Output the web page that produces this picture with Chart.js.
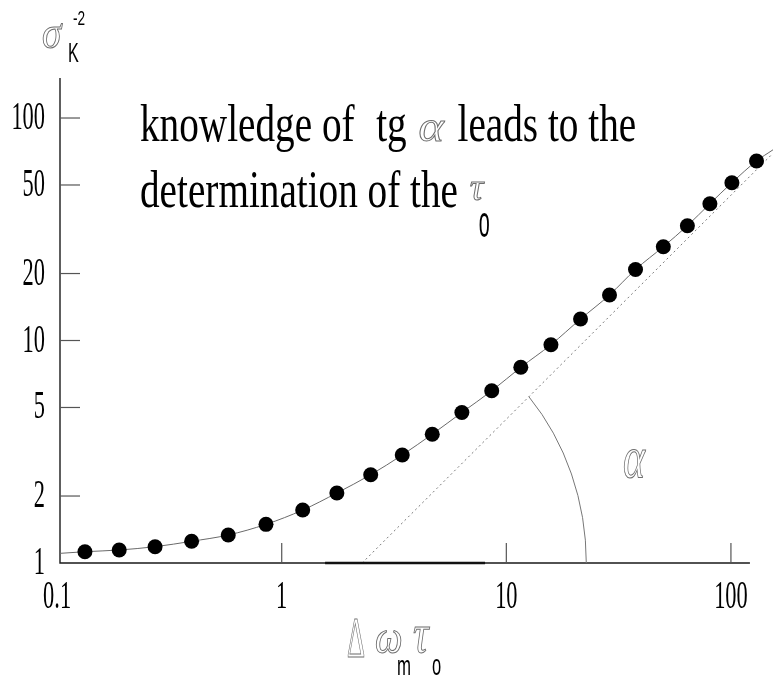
<!DOCTYPE html>
<html>
<head>
<meta charset="utf-8">
<script src="https://cdn.jsdelivr.net/npm/chart.js@4.4.1/dist/chart.umd.min.js"></script>
<style>
  html, body { margin: 0; padding: 0; background: #fff; }
  #wrap { width: 773px; height: 677px; position: relative; }
</style>
</head>
<body>
<div id="wrap"><canvas id="c" width="773" height="677"></canvas></div>
<script>
// Sampled points: Δω_m·τ_o versus σ_K^-2
const xValues = [0.133, 0.189, 0.273, 0.397, 0.578, 0.851, 1.24, 1.76, 2.49, 3.44, 4.68, 6.34,
                 8.61, 11.6, 15.8, 21.4, 28.8, 37.6, 50.0, 64.0, 80.6, 101, 130];
const yValues = [1.124, 1.144, 1.184, 1.252, 1.336, 1.492, 1.730, 2.064, 2.494, 3.058, 3.793, 4.748,
                 5.941, 7.578, 9.575, 12.49, 16.02, 20.85, 26.40, 32.81, 41.19, 51.2, 64.1];

// Continuation of the solid curve beyond the first and last sample
const curveStartX = 0.103, curveStartY = 1.105;
const curveEndX = 154, curveEndY = 72;

// Straight-line asymptote (slope 1 in log-log) and the angle arc
const asymptoteX = [2.28, 153];
const asymptoteY = [1, 69];
const arcRadiusX = 22.7;          // where the arc meets the x axis
const arcStretch = 1.11;          // vertical/horizontal radius ratio of the arc

// Heavier stretch of the x axis line
const axisSegmentX = [1.56, 8.04];

// Axis ranges
const xMin = 0.103, xMax = 141.8, xAxisEnd = 121.5;
const yMin = 1, yMax = 151.3;

// Tick labels
const xTickValues = [0.1, 1, 10, 100];
const xTickLabels = ['0.1', '1', '10', '100'];
const yTickValues = [1, 2, 5, 10, 20, 50, 100];
const yTickLabels = ['1', '2', '5', '10', '20', '50', '100'];

const curveData = [{ x: curveStartX, y: curveStartY }]
  .concat(xValues.map((x, i) => ({ x, y: yValues[i] })))
  .concat([{ x: curveEndX, y: curveEndY }]);
const pointData = xValues.map((x, i) => ({ x, y: yValues[i] }));
const asymptoteData = asymptoteX.map((x, i) => ({ x, y: asymptoteY[i] }));
const segmentData = axisSegmentX.map(x => ({ x, y: yMin }));

const SERIF = '"Liberation Serif", "Times New Roman", serif';
const SANS = '"Liberation Sans", Arial, sans-serif';
const GREEK = '#6e6e6e';

// Draw a text run squeezed horizontally by sx; returns the drawn width
function put(ctx, text, x, y, font, sx, opts) {
  opts = opts || {};
  ctx.save();
  ctx.font = font;
  ctx.textBaseline = 'alphabetic';
  const w = ctx.measureText(text).width * sx;
  let ox = x;
  if (opts.align === 'right') ox = x - w;
  else if (opts.align === 'center') ox = x - w / 2;
  ctx.translate(ox, y);
  ctx.scale(sx, 1);
  if (opts.stroke) {
    ctx.strokeStyle = opts.color || GREEK;
    ctx.lineWidth = opts.lw || 1;
    ctx.strokeText(text, 0, 0);
  } else {
    ctx.fillStyle = opts.color || '#000';
    ctx.fillText(text, 0, 0);
  }
  ctx.restore();
  return w;
}

const axesPlugin = {
  id: 'axesPlugin',
  beforeDatasetsDraw(chart) {
    const ctx = chart.ctx;
    const xs = chart.scales.x, ys = chart.scales.y;
    const a = chart.chartArea;
    const x0 = xs.getPixelForValue(xMin);
    const y0 = ys.getPixelForValue(yMin);
    ctx.save();
    // axis lines
    ctx.strokeStyle = '#1a1a1a';
    ctx.lineWidth = 1.4;
    ctx.beginPath();
    ctx.moveTo(x0, a.top);
    ctx.lineTo(x0, y0);
    ctx.lineTo(xs.getPixelForValue(xAxisEnd), y0);
    ctx.stroke();
    // inward tick marks
    ctx.strokeStyle = '#555';
    ctx.lineWidth = 1.2;
    xs.ticks.forEach(t => {
      const px = xs.getPixelForValue(t.value);
      if (px > x0 + 2) {
        ctx.beginPath(); ctx.moveTo(px, y0); ctx.lineTo(px, y0 - 20); ctx.stroke();
      }
    });
    ys.ticks.forEach(t => {
      const py = ys.getPixelForValue(t.value);
      if (py < y0 - 2) {
        ctx.beginPath(); ctx.moveTo(x0, py); ctx.lineTo(x0 + 20, py); ctx.stroke();
      }
    });
    // angle arc between the asymptote and the x axis
    const cx = xs.getPixelForValue(asymptoteX[0]);
    const cy = ys.getPixelForValue(asymptoteY[0]);
    const dx = xs.getPixelForValue(asymptoteX[1]) - cx;
    const dy = cy - ys.getPixelForValue(asymptoteY[1]);
    const rx = xs.getPixelForValue(arcRadiusX) - cx;
    const ry = rx * arcStretch;
    const t = Math.atan2(dy / ry, dx / rx);
    ctx.strokeStyle = '#777';
    ctx.lineWidth = 1;
    ctx.beginPath();
    ctx.ellipse(cx, cy, rx, ry, 0, -t, 0);
    ctx.stroke();
    ctx.restore();
  },
  afterDraw(chart) {
    const ctx = chart.ctx;
    const xs = chart.scales.x, ys = chart.scales.y;
    const tickFont = '40px ' + SERIF;
    xs.ticks.forEach(t => {
      put(ctx, t.label, xs.getPixelForValue(t.value), 608, tickFont, 0.56, { align: 'center' });
    });
    ys.ticks.forEach(t => {
      put(ctx, t.label, 45, ys.getPixelForValue(t.value) + 11, tickFont, 0.56, { align: 'right' });
    });

    // y axis title: σ_K^-2
    put(ctx, 'σ', 42, 48, 'italic 46px ' + SERIF, 0.85, { stroke: true });
    put(ctx, 'K', 68, 62, '27px ' + SANS, 0.6);
    put(ctx, '-2', 73, 25, '21px ' + SANS, 0.65);

    // x axis title: Δω_m τ_o
    put(ctx, 'Δ', 347, 657, '56px ' + SERIF, 0.5, { stroke: true });
    put(ctx, 'ω', 375, 653, 'italic 46px ' + SERIF, 0.85, { stroke: true });
    put(ctx, 'm', 397, 675, '28px ' + SANS, 0.6);
    put(ctx, 'τ', 413, 652, 'italic 54px ' + SERIF, 0.8, { stroke: true });
    put(ctx, 'o', 432, 675, '30px ' + SANS, 0.55);

    // annotation, two lines in a condensed serif
    const big = '53px ' + SERIF, sx = 0.74;
    ctx.font = big;
    const sp = ctx.measureText(' ').width * sx;
    let x = 140;
    x += put(ctx, 'knowledge of', x, 141, big, sx) + sp * 2.2;
    x += put(ctx, 'tg', x, 141, big, sx) + sp * 1.2;
    x += put(ctx, 'α', x, 141, 'italic 44px ' + SERIF, 1.1, { stroke: true }) + sp * 1.4;
    put(ctx, 'leads to the', x, 141, big, sx);

    x = 140;
    x += put(ctx, 'determination of the', x, 207, big, sx) + sp * 1.2;
    put(ctx, 'τ', x, 200, 'italic 38px ' + SERIF, 1.0, { stroke: true });
    put(ctx, 'o', x + 9, 237, '44px ' + SANS, 0.45);

    // angle label
    put(ctx, 'α', 623, 477, 'italic 60px ' + SERIF, 0.7, { stroke: true });
  }
};

new Chart(document.getElementById('c'), {
  type: 'scatter',
  data: {
    datasets: [
      {
        type: 'line', data: curveData, borderColor: '#6a6a6a', borderWidth: 1,
        pointRadius: 0, cubicInterpolationMode: 'monotone', fill: false, clip: false, order: 3
      },
      {
        type: 'line', data: asymptoteData, borderColor: '#7a7a7a', borderWidth: 1,
        borderDash: [2, 3], pointRadius: 0, fill: false, clip: false, order: 4
      },
      {
        type: 'line', data: segmentData, borderColor: '#111', borderWidth: 2.6,
        pointRadius: 0, fill: false, clip: false, order: 2
      },
      {
        type: 'scatter', data: pointData, backgroundColor: '#000', borderWidth: 0,
        pointRadius: 7.5, clip: false, order: 1
      }
    ]
  },
  options: {
    responsive: false,
    animation: false,
    layout: { padding: { left: 60, right: 8, top: 78, bottom: 114 } },
    plugins: { legend: { display: false }, tooltip: { enabled: false } },
    scales: {
      x: {
        type: 'logarithmic', min: xMin, max: xMax, display: false,
        afterBuildTicks: s => { s.ticks = xTickValues.map((v, i) => ({ value: v, label: xTickLabels[i] })); }
      },
      y: {
        type: 'logarithmic', min: yMin, max: yMax, display: false,
        afterBuildTicks: s => { s.ticks = yTickValues.map((v, i) => ({ value: v, label: yTickLabels[i] })); }
      }
    }
  },
  plugins: [axesPlugin]
});
</script>
</body>
</html>
